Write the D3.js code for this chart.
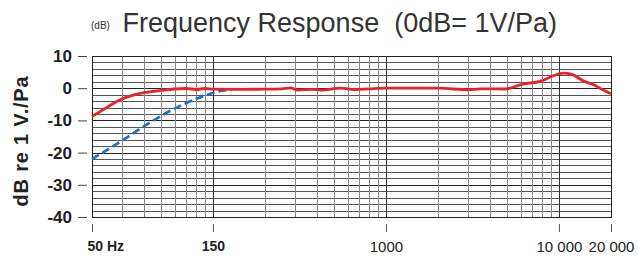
<!DOCTYPE html>
<html>
<head>
<meta charset="utf-8">
<script src="https://cdn.jsdelivr.net/npm/d3@7"></script>
<style>
  body { margin: 0; background: #fff; }
  svg { display: block; font-family: "Liberation Sans", Arial, sans-serif; }
</style>
</head>
<body>
<svg id="chart" width="638" height="257"></svg>
<script>
// grid runs 20 Hz .. 20 kHz, the printed tick labels are what the original sheet shows
const xTickValues = [20, 100, 1000, 10000, 20000];
const xTickLabels = ["50 Hz", "150", "1000", "10 000", "20 000"];
const yTickValues = [-40, -30, -20, -10, 0, 10];

// red: response (solid)
const redFreq = [20, 24, 27, 30, 35, 40, 50, 60, 70, 80, 90, 100, 150, 200, 250, 280, 310, 370, 420, 550, 660, 800, 1000, 2000, 3000, 3500, 4900, 6200, 7800, 9100, 10600, 11900, 13900, 15900, 17800, 20000];
const redDb = [-8.8, -6.2, -4.5, -3.3, -2.1, -1.4, -0.7, -0.25, -0.1, -0.4, -0.1, -0.3, -0.35, -0.3, -0.2, 0.1, -0.6, -0.35, -0.6, 0, -0.4, -0.2, 0, 0, -0.5, -0.2, -0.25, 1.3, 2.1, 3.7, 4.7, 4.3, 2.2, 1.1, -0.4, -1.7];

// blue: low cut (dashed)
const blueFreq = [20, 30, 40, 55, 70, 93, 105, 130];
const blueDb = [-22, -16.2, -11.8, -7.4, -4.6, -2, -1.1, -0.4];

const svg = d3.select("#chart");

const x = d3.scaleLog().domain([20, 20000]).range([92, 611]);
const y = d3.scaleLinear().domain([-40, 10]).range([217, 56]);

// title
svg.append("text")
  .attr("x", 557).attr("y", 32)
  .attr("text-anchor", "end")
  .attr("font-size", 27)
  .attr("fill", "#333")
  .style("white-space", "pre")
  .text("Frequency Response  (0dB= 1V/Pa)");

svg.append("text")
  .attr("x", 91).attr("y", 29)
  .attr("font-size", 10)
  .attr("fill", "#333")
  .text("(dB)");

// grid
const vLines = [];
[10, 100, 1000, 10000].forEach(dec => {
  for (let k = 1; k <= 9; k++) {
    const f = dec * k;
    if (f >= 20 && f <= 20000) vLines.push(f);
  }
});
vLines.push(20000);

const grid = svg.append("g");

const hLines = d3.range(-40, 11, 2);
grid.selectAll("line.h")
  .data(hLines)
  .join("line")
  .attr("class", "h")
  .attr("x1", x(20)).attr("x2", x(20000))
  .attr("y1", d => Math.round(y(d)) + 0.5)
  .attr("y2", d => Math.round(y(d)) + 0.5)
  .attr("stroke", d => d % 10 === 0 ? "#222" : "#555")
  .attr("stroke-width", 1);

grid.selectAll("line.v")
  .data(vLines)
  .join("line")
  .attr("class", "v")
  .attr("y1", y(10)).attr("y2", y(-40))
  .attr("x1", d => Math.round(x(d)) + 0.5)
  .attr("x2", d => Math.round(x(d)) + 0.5)
  .attr("stroke", d => [100, 1000, 10000].includes(d) ? "#333" : "#888")
  .attr("stroke-width", 1);

// frame
svg.append("rect")
  .attr("x", Math.round(x(20)) + 0.5)
  .attr("y", Math.round(y(10)) + 0.5)
  .attr("width", Math.round(x(20000)) - Math.round(x(20)))
  .attr("height", Math.round(y(-40)) - Math.round(y(10)))
  .attr("fill", "none")
  .attr("stroke", "#222");

// axes
const yAxis = d3.axisLeft(y)
  .tickValues(yTickValues)
  .tickSize(9)
  .tickPadding(6)
  .tickFormat(d => d);

const gy = svg.append("g")
  .attr("transform", "translate(87,0)")
  .call(yAxis);
gy.select(".domain").remove();
gy.selectAll(".tick line").attr("stroke", "#444");
gy.selectAll(".tick text")
  .attr("font-size", 17)
  .attr("font-weight", "bold")
  .attr("font-family", "Liberation Sans, Arial, sans-serif")
  .attr("fill", "#222");

const xAxis = d3.axisBottom(x)
  .tickValues(xTickValues)
  .tickSize(8)
  .tickPadding(9)
  .tickFormat((d, i) => xTickLabels[i]);

const gx = svg.append("g")
  .attr("transform", "translate(0,224)")
  .call(xAxis);
gx.select(".domain").remove();
gx.selectAll(".tick line").attr("stroke", "#555");
gx.selectAll(".tick text")
  .attr("font-family", "Liberation Sans, Arial, sans-serif")
  .attr("fill", "#222")
  .attr("font-size", (d, i) => i < 2 ? 14 : 15)
  .attr("font-weight", (d, i) => i < 2 ? "bold" : "normal")
  .attr("text-anchor", (d, i) => i === 0 ? "start" : "middle")
  .attr("dx", (d, i) => i === 0 ? -5 : 0);

// y title
svg.append("text")
  .attr("transform", "translate(28,141) rotate(-90)")
  .attr("text-anchor", "middle")
  .attr("font-size", 20)
  .attr("font-weight", "bold")
  .attr("fill", "#222")
  .attr("letter-spacing", 0.8)
  .text("dB re 1 V./Pa");

// curves
const line = d3.line()
  .x(d => x(d[0]))
  .y(d => y(d[1]))
  .curve(d3.curveMonotoneX);

svg.append("path")
  .datum(blueFreq.map((f, i) => [f, blueDb[i]]))
  .attr("fill", "none")
  .attr("stroke", "#1b75bb")
  .attr("stroke-width", 2.7)
  .attr("stroke-dasharray", "8,4")
  .attr("d", line);

svg.append("path")
  .datum(redFreq.map((f, i) => [f, redDb[i]]))
  .attr("fill", "none")
  .attr("stroke", "#e8222c")
  .attr("stroke-width", 2.8)
  .attr("stroke-linejoin", "round")
  .attr("d", line);
</script>
</body>
</html>
